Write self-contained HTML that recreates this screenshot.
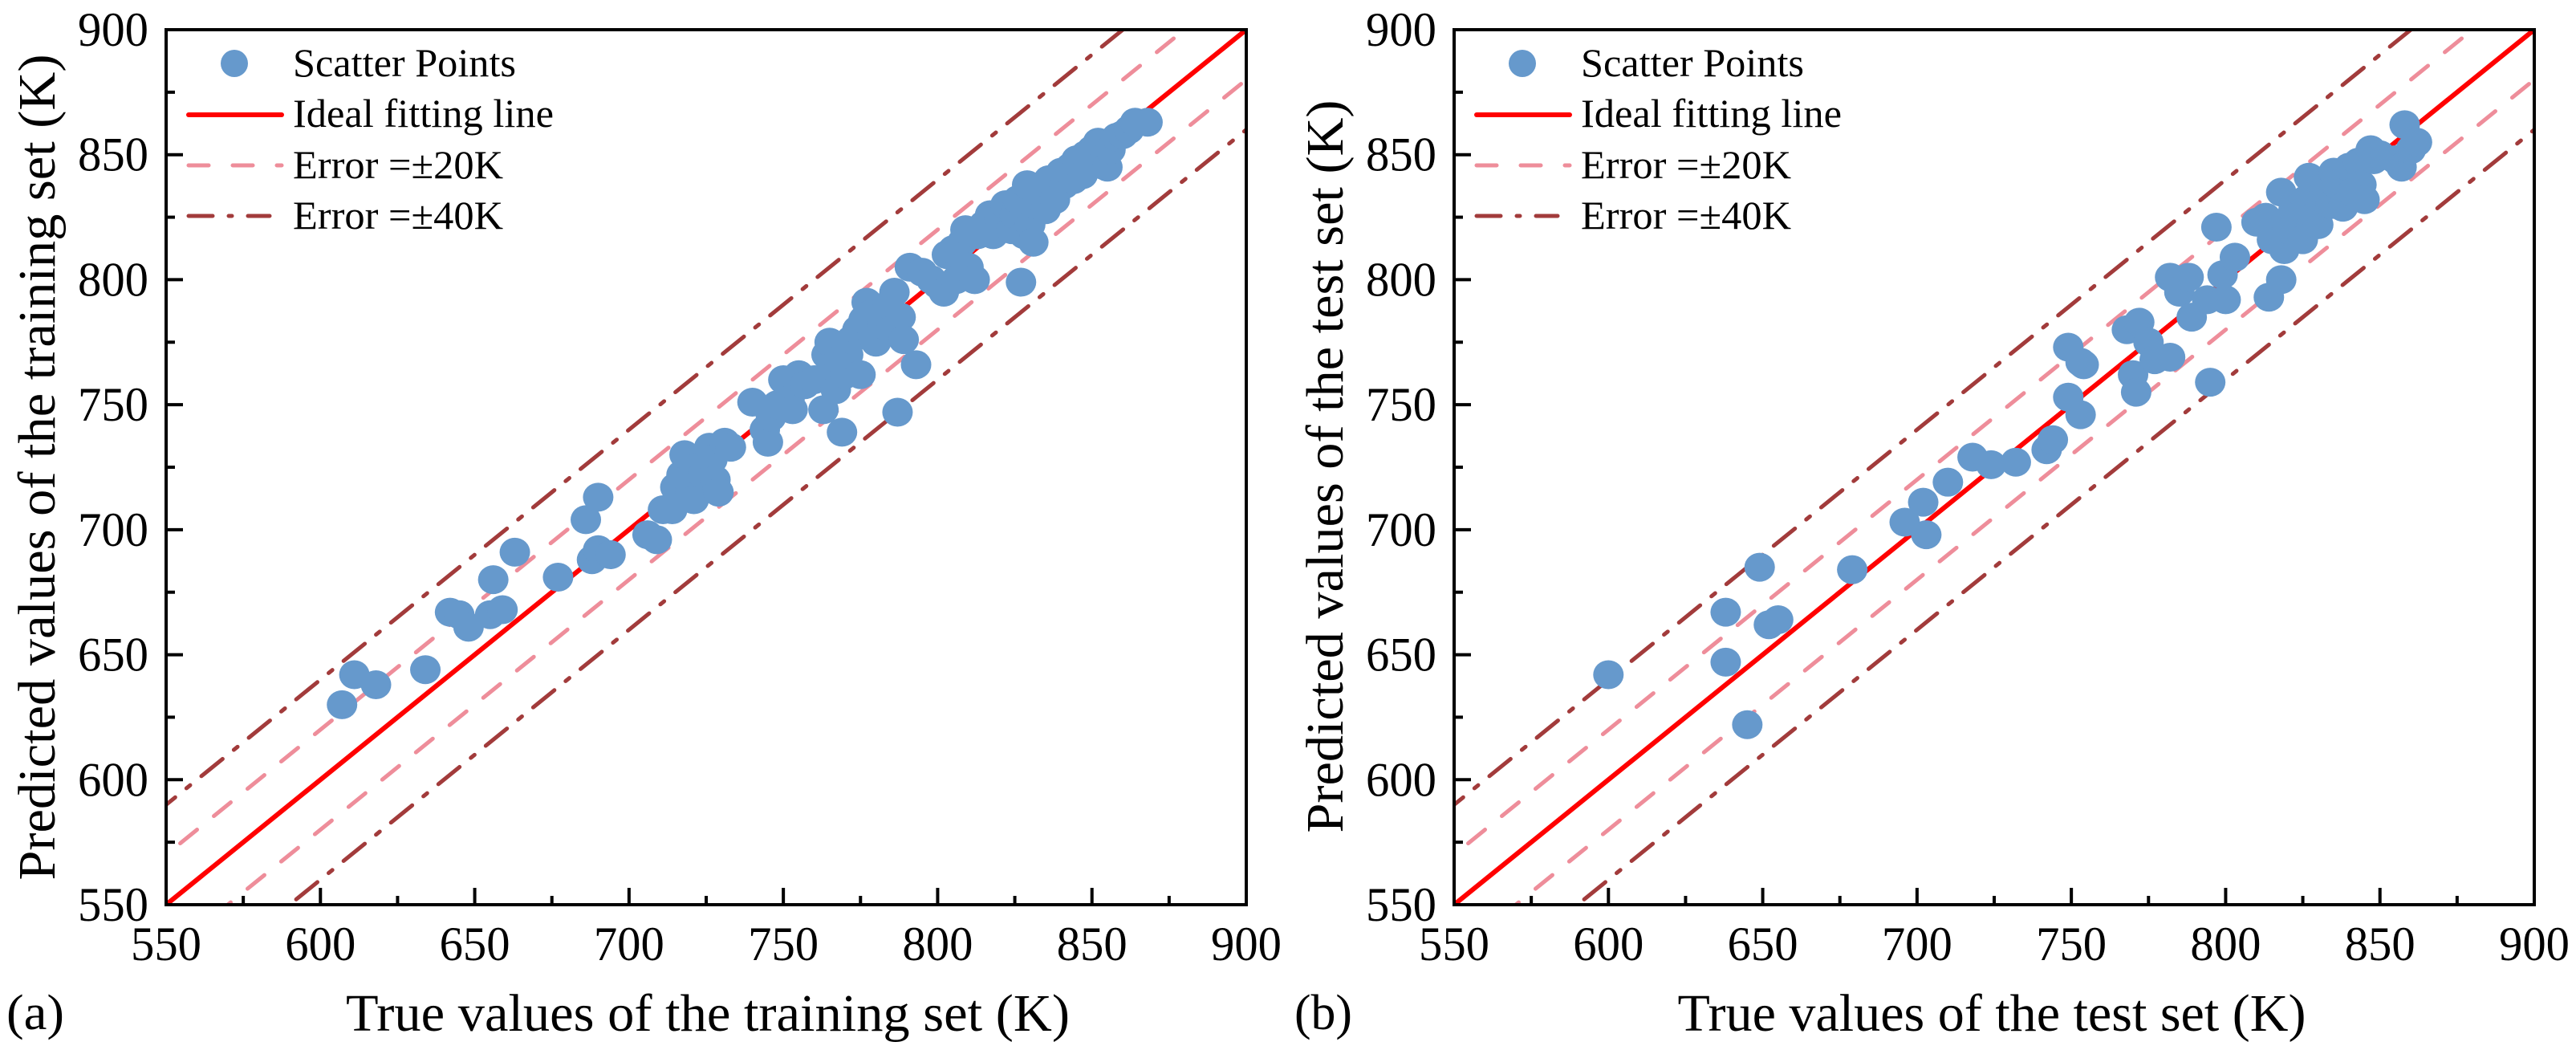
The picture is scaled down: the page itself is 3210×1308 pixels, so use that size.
<!DOCTYPE html>
<html><head><meta charset="utf-8">
<style>
html,body{margin:0;padding:0;background:#fff;width:3210px;height:1308px;overflow:hidden;}
svg{display:block;}
text{font-family:"Liberation Serif","Times New Roman",Times,serif;}
</style></head>
<body>
<svg id="fig" width="3210" height="1308" viewBox="0 0 3210 1308" xmlns="http://www.w3.org/2000/svg" font-family="Liberation Serif, Times New Roman, serif">
<rect x="0" y="0" width="3210" height="1308" fill="#fff"/>
</svg>
<script>
const trainTrue=[607,611,618,634,642,645,648,655,656,659,663,677,686,688,690,690,694,706,709,711,714,715,717,718,720,721,722,724,726,727,728,729,731,733,740,744,745,746,748,750,752,753,755,757,760,763,764,765,766,767,768,769,770,771,772,774,775,776,777,778,779,780,782,784,785,786,787,788,789,791,793,795,798,800,802,803,805,806,808,809,810,812,813,815,817,818,820,822,824,825,826,827,828,829,830,831,832,834,835,836,838,840,841,843,844,845,847,848,850,851,852,853,855,856,858,860,862,864,868];
const trainPred=[630,642,638,644,667,666,661,666,680,668,691,681,704,688,713,692,690,698,696,708,708,717,722,730,715,712,725,722,733,728,720,715,735,733,751,740,735,745,750,760,752,748,762,758,760,748,770,775,765,756,768,739,762,770,776,780,762,784,791,786,778,775,782,790,780,795,747,785,776,805,766,803,800,798,795,810,812,800,815,820,805,800,818,822,826,818,824,830,820,826,832,799,818,838,822,815,830,835,828,840,832,843,838,845,840,848,842,850,852,848,855,846,845,852,857,858,860,863,863];
const testTrue=[600,638,638,649,645,652,655,679,696,702,703,710,718,724,732,742,744,749,749,753,754,753,768,770,771,772,775,777,782,782,785,788,789,794,795,797,799,800,803,810,813,814,815,818,818,819,820,822,825,826,827,828,830,832,834,835,836,838,840,841,843,844,845,847,848,850,855,857,858,860,862];
const testPred=[642,667,647,685,622,662,664,684,703,711,698,719,729,726,727,732,736,773,753,767,766,746,780,762,755,783,775,768,769,801,795,801,785,792,759,821,802,792,809,823,825,793,816,835,800,812,820,828,816,832,841,825,822,835,830,843,838,829,845,835,847,838,832,852,848,850,848,845,862,852,855];
const axisTicks=[550,600,650,700,750,800,850,900];
const minorTicks=[575,625,675,725,775,825,875];
const errorBands=[20,40];

const NS="http://www.w3.org/2000/svg";
const svg=document.getElementById('fig');
function mk(tag,attrs,parent){const e=document.createElementNS(NS,tag);for(const k in attrs)e.setAttribute(k,attrs[k]);(parent||svg).appendChild(e);return e;}

function panel(ox,tag,xs,ys,xTitle,yTitle,xtLen,ytLen,ytCenter,xtCenter){
  const L=ox+207,R=ox+1553,T=37,B=1127;
  const sx=v=>L+(v-550)*(R-L)/350;
  const sy=v=>B-(v-550)*(B-T)/350;
  const g=mk('g',{});
  
  
  const clipId='clip'+tag;
  const cp=mk('clipPath',{id:clipId},g);mk('rect',{x:L,y:T,width:R-L,height:B-T},cp);
  const lines=mk('g',{'clip-path':'url(#'+clipId+')'},g);
  const sty={20:{stroke:'#ee8d9a',dash:'27 27'},40:{stroke:'#a23b3b',dash:'34 18 6 18'}};
  errorBands.forEach(e=>{[1,-1].forEach(s=>{
    const l=mk('line',{x1:sx(500),y1:sy(500+s*e),x2:sx(950),y2:sy(950+s*e),stroke:sty[e].stroke,'stroke-width':5,'stroke-dasharray':sty[e].dash,'stroke-linecap':'round'},lines);
    
    
  });});
  const ideal=mk('line',{x1:sx(550),y1:sy(550),x2:sx(900),y2:sy(900),stroke:'#ff0000','stroke-width':6},lines);
  
  
  const pts=mk('g',{},g);
  
  
  xs.forEach((xv,i)=>{
    const c=mk('ellipse',{cx:sx(xv),cy:sy(ys[i]),rx:19,ry:18,fill:'#6699cc'},pts);
    
    
  });
  const fr=mk('rect',{x:L,y:T,width:R-L,height:B-T,fill:'none',stroke:'#000','stroke-width':4},g);
  
  
  axisTicks.forEach(v=>{
    mk('line',{x1:sx(v),y1:B,x2:sx(v),y2:B-21,stroke:'#000','stroke-width':4},g);
    mk('line',{x1:L,y1:sy(v),x2:L+21,y2:sy(v),stroke:'#000','stroke-width':4},g);
    const xt=mk('text',{x:sx(v),y:1196,'font-size':60,'text-anchor':'middle',textLength:88,lengthAdjust:'spacingAndGlyphs'},g);xt.textContent=v;
    
    
    const yt=mk('text',{x:ox+185,y:sy(v)+20,'font-size':60,'text-anchor':'end',textLength:88,lengthAdjust:'spacingAndGlyphs'},g);yt.textContent=v;
    
    
  });
  minorTicks.forEach(v=>{
    mk('line',{x1:sx(v),y1:B,x2:sx(v),y2:B-11,stroke:'#000','stroke-width':4},g);
    mk('line',{x1:L,y1:sy(v),x2:L+11,y2:sy(v),stroke:'#000','stroke-width':4},g);
  });
  const xtt=mk('text',{x:ox+xtCenter,y:1284,'font-size':66,'text-anchor':'middle',textLength:xtLen,lengthAdjust:'spacingAndGlyphs'},g);
  xtt.textContent=xTitle;
  
  
  const ytt=mk('text',{x:0,y:0,'font-size':66,'text-anchor':'middle',textLength:ytLen,lengthAdjust:'spacingAndGlyphs',transform:'translate('+(ox+68)+','+ytCenter+') rotate(-90)'},g);
  ytt.textContent=yTitle;
  
  
  const pl=mk('text',{x:ox+8,y:1282,'font-size':62,textLength:72,lengthAdjust:'spacingAndGlyphs'},g);pl.textContent='('+tag+')';
  
  
  const lg=mk('g',{},g);
  
  
  mk('ellipse',{cx:ox+292,cy:79,rx:17,ry:17,fill:'#6699cc'},lg);
  mk('line',{x1:ox+235,y1:143,x2:ox+351,y2:143,stroke:'#ff0000','stroke-width':6,'stroke-linecap':'round'},lg);
  mk('line',{x1:ox+235,y1:206,x2:ox+351,y2:206,stroke:'#ee8d9a','stroke-width':5,'stroke-dasharray':'25 30','stroke-linecap':'round'},lg);
  mk('line',{x1:ox+235,y1:269,x2:ox+336,y2:269,stroke:'#a23b3b','stroke-width':5,'stroke-dasharray':'30 20 4 20','stroke-linecap':'round'},lg);
  const labs=['Scatter Points','Ideal fitting line','Error =\u00b120K','Error =\u00b140K'];
  const lens=[278,325,262,262];
  const bl=[95,158,222,285];
  labs.forEach((t,i)=>{
    const tx=mk('text',{x:ox+365,y:bl[i],'font-size':50,textLength:lens[i],lengthAdjust:'spacingAndGlyphs'},lg);tx.textContent=t;
    
    
  });
}
panel(0,'a',trainTrue,trainPred,'True values of the training set (K)','Predicted values of the training set (K)',902,1029,582,882);
panel(1605,'b',testTrue,testPred,'True values of the test set (K)','Predicted values of the test set (K)',783,913,581,877);
</script>
</body></html>
